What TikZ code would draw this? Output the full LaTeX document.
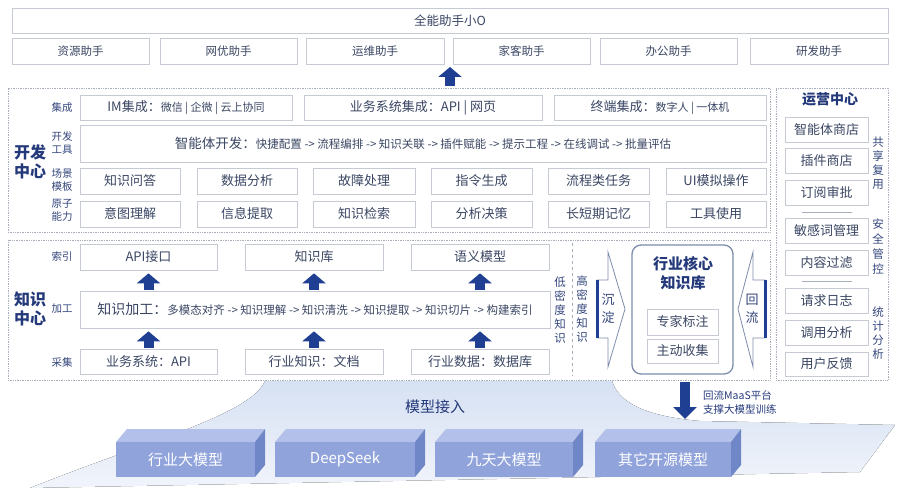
\documentclass[tikz,border=0pt]{standalone}
\usepackage{fontspec}
\setmainfont{Noto Sans CJK SC}
\usetikzlibrary{arrows.meta}
\definecolor{txt}{HTML}{3A4663}
\definecolor{navy}{HTML}{24397A}
\definecolor{lbl}{HTML}{34467C}
\definecolor{abl}{HTML}{1F3F93}
\definecolor{bgr}{HTML}{C6CAD3}
\definecolor{fgr}{HTML}{A8AEBA}
\definecolor{corebd}{HTML}{7D8CAB}
\definecolor{mfront}{HTML}{90A3DB}
\definecolor{mtop}{HTML}{B3C0E9}
\definecolor{mside}{HTML}{7087C7}
\definecolor{plat}{HTML}{D6E1F3}
\definecolor{platb}{HTML}{F1F4FB}
\newcommand\fsz[2]{\fontsize{#1pt}{#2pt}\selectfont}
\newcommand\bx[7][]{\node[box,#1,minimum width={(#5-#3)*1pt},minimum height={(#6-#4)*1pt}] (#2) at ({(#3+#5)/2},{(#4+#6)/2}) {#7};}
\newcommand\modelbox[4]{%
  \fill[mtop] (#2,442) -- ({#2+11},429) -- ({#3+10},429) -- (#3,442) -- cycle;
  \fill[mside] (#3,442) -- ({#3+10},429) -- ({#3+10},465) -- (#3,477) -- cycle;
  \node[model,minimum width={(#3-#2)*1pt},minimum height=35pt] (#1) at ({(#2+#3)/2},459.5) {#4};}
\begin{document}
\begin{tikzpicture}[x=1pt,y=-1pt,
  box/.style={draw=bgr,fill=white,line width=0.7pt,text=txt,inner sep=0pt,font=\fsz{13}{15}},
  frame/.style={draw=fgr,fill=none,densely dotted,line width=0.7pt},
  side/.style={text=lbl,font=\fsz{10.5}{13},align=center,inner sep=0pt},
  big/.style={text=navy,font=\bfseries\fsz{16}{18.5},align=center,inner sep=0pt},
  vt/.style={text=lbl,font=\fsz{11.5}{14},align=center,inner sep=0pt},
  uparr/.style={abl,line width=10pt,-{Triangle[width=23pt,length=10pt]}},
  model/.style={fill=mfront,text=white,font=\fsz{15}{17},inner sep=0pt},
  core/.style={draw=corebd,line width=1.3pt,rounded corners=9pt,fill=none}]
\useasboundingbox (0,0) rectangle (898,500);
% platform
\fill[top color=plat,bottom color=platb] (265,381) .. controls (250,415) and (150,440) .. (30,488) -- (860,472) -- (895,425) -- (700,421) .. controls (640,416) and (618,400) .. (612,381) -- cycle;
% top
\bx[font=\fsz{12.5}{15}]{all}{12}{8}{888}{33}{全能助手小O}
\bx[font=\fsz{11.5}{14}]{r1}{12}{38}{149}{64}{资源助手}
\bx[font=\fsz{11.5}{14}]{r2}{160}{38}{297}{64}{网优助手}
\bx[font=\fsz{11.5}{14}]{r3}{306}{38}{444}{64}{运维助手}
\bx[font=\fsz{11.5}{14}]{r4}{453}{38}{590}{64}{家客助手}
\bx[font=\fsz{11.5}{14}]{r5}{600}{38}{737}{64}{办公助手}
\bx[font=\fsz{11.5}{14}]{r6}{750}{38}{888}{64}{研发助手}
% frames
\bx[frame]{dev}{8}{88}{770}{232}{}
\bx[frame]{know}{8}{240}{770}{380}{}
\bx[frame]{ops}{776}{88}{888}{380}{}
\coordinate (topgap) at (450,67);
\draw[uparr] ([yshift=2pt]dev.north -| topgap) -- (topgap);
% dev center
\bx[font=\fsz{11}{13}]{im}{80}{95}{292}{120}{{\fsz{13}{15}IM集成：}微信 | 企微 | 云上协同}
\bx{biz}{304}{95}{542}{120}{业务系统集成：API | 网页}
\bx[font=\fsz{11}{13}]{term}{554}{95}{766}{120}{{\fsz{13}{15}终端集成：}数字人 | 一体机}
\bx[font=\fsz{11.5}{14}]{tool}{80}{125}{766}{162}{{\fsz{13.5}{15}智能体开发：}快捷配置 -> 流程编排 -> 知识关联 -> 插件赋能 -> 提示工程 -> 在线调试 -> 批量评估}
\bx{s1}{80}{168}{180}{194}{知识问答}
\bx{s2}{197}{168}{297}{194}{数据分析}
\bx{s3}{313}{168}{415}{194}{故障处理}
\bx{s4}{431}{168}{532}{194}{指令生成}
\bx{s5}{548}{168}{649}{194}{流程类任务}
\bx{s6}{666}{168}{766}{194}{UI模拟操作}
\bx{a1}{80}{201}{180}{227}{意图理解}
\bx{a2}{197}{201}{297}{227}{信息提取}
\bx{a3}{313}{201}{415}{227}{知识检索}
\bx{a4}{431}{201}{532}{227}{分析决策}
\bx{a5}{548}{201}{649}{227}{长短期记忆}
\bx{a6}{666}{201}{766}{227}{工具使用}
\node[side] (l1) at (62,108) {集成};
\node[side] (l2) at (62,143) {开发\\工具};
\node[side] (l3) at (62,180) {场景\\模板};
\node[side] (l4) at (62,210) {原子\\能力};
\node[big] (devl) at (30,162) {开发\\中心};
% knowledge center
\bx{api}{80}{244}{217}{270}{API接口}
\bx{kb}{245}{244}{383}{270}{知识库}
\bx{sem}{411}{244}{549}{270}{语义模型}
\bx[font=\fsz{11.5}{14}]{proc}{80}{291}{550}{328}{{\fsz{14}{16}知识加工：}多模态对齐 -> 知识理解 -> 知识清洗 -> 知识提取 -> 知识切片 -> 构建索引}
\bx{c1}{80}{349}{217}{374}{业务系统：API}
\bx{c2}{245}{349}{383}{374}{行业知识：文档}
\bx{c3}{411}{349}{549}{374}{行业数据：数据库}
\foreach \u in {api,kb,sem}{\draw[uparr] ([yshift=1pt]proc.north -| \u.south) -- ([yshift=-3pt]\u.south);}
\foreach \u in {c1,c2,c3}{\draw[uparr] ([yshift=1pt]\u.north) -- ([yshift=-3pt]proc.south -| \u.north);}
\node[side] (k1) at (62,257) {索引};
\node[side] (k2) at (62,309) {加工};
\node[side] (k3) at (62,362) {采集};
\node[big] (knl) at (30,309) {知识\\中心};
\coordinate (dl1) at (572,243);
\coordinate (dl2) at (572,376);
\draw[fgr,dashed,line width=0.8pt] (dl1) -- (dl2);
\node[vt] (low) at (560,310) {低\\密\\度\\知\\识};
\node[vt] (high) at (582,309) {高\\密\\度\\知\\识};
% sediment arrow
\draw[corebd,line width=0.8pt,fill=white] (597,280) -- (608,280) -- (608,252) -- (625,309) -- (608,367) -- (608,338) -- (597,338) -- cycle;
\draw[abl,line width=3pt] (597,280) -- (597,338);
\node[vt,font=\fsz{13}{18}] (sd) at (608,309) {沉\\淀};
% back-flow arrow
\draw[corebd,line width=0.8pt,fill=white] (765,280) -- (753,280) -- (753,252) -- (738,309) -- (753,367) -- (753,338) -- (765,338) -- cycle;
\draw[abl,line width=3pt] (765,280) -- (765,338);
\node[vt,font=\fsz{13}{18}] (hl) at (752,309) {回\\流};
% core
\bx[core]{core}{632}{245}{733}{374}{}
\node[big,font=\bfseries\fsz{15}{19}] (coret) at (683,273) {行业核心\\知识库};
\bx{exp}{647}{309}{718}{335}{专家标注}
\bx{col}{647}{339}{718}{363}{主动收集}
% ops
\node[big,font=\bfseries\fsz{14}{16}] (opst) at (830,99) {运营中心};
\bx{o1}{785}{117}{868}{142}{智能体商店}
\bx{o2}{785}{148}{868}{173}{插件商店}
\bx{o3}{785}{180}{868}{205}{订阅审批}
\bx{o4}{785}{218}{868}{243}{敏感词管理}
\bx{o5}{785}{250}{868}{275}{内容过滤}
\bx{o6}{785}{288}{868}{313}{请求日志}
\bx{o7}{785}{320}{868}{345}{调用分析}
\bx{o8}{785}{352}{868}{376}{用户反馈}
\draw[fgr,line width=0.8pt] (802,212.5) -- (852,212.5);
\draw[fgr,line width=0.8pt] (802,281.5) -- (852,281.5);
\node[vt,font=\fsz{11.5}{14}] (g1) at (878,163) {共\\享\\复\\用};
\node[vt,font=\fsz{11.5}{15}] (g2) at (878,247) {安\\全\\管\\控};
\node[vt,font=\fsz{11.5}{14}] (g3) at (878,333) {统\\计\\分\\析};
% bottom
\node[text=navy,font=\fsz{15}{17}] (mj) at (435,407) {模型接入};
\coordinate (dn) at (685,419);
\draw[uparr,-{Triangle[width=23pt,length=12pt]}] ([yshift=-2pt]know.south -| dn) -- (dn);
\node[text=navy,font=\fsz{10.5}{14},align=left,anchor=west,inner sep=0pt] (maas) at (703,402) {回流MaaS平台\\支撑大模型训练};
\modelbox{m1}{116}{255}{行业大模型}
\modelbox{m2}{275}{415}{DeepSeek}
\modelbox{m3}{435}{573}{九天大模型}
\modelbox{m4}{595}{731}{其它开源模型}
\end{tikzpicture}
\end{document}
